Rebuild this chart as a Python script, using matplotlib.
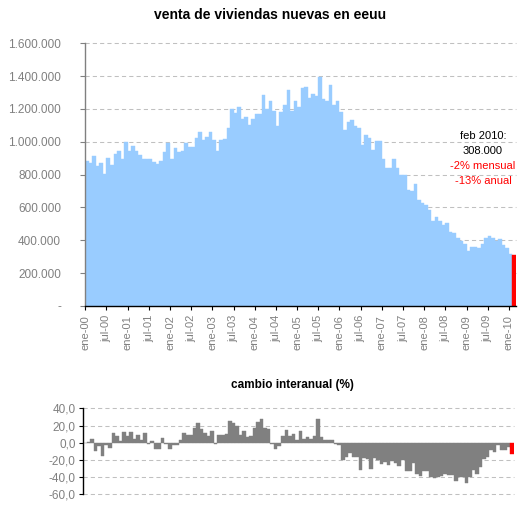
import matplotlib
matplotlib.use("Agg")
import matplotlib.pyplot as plt
import numpy as np

plt.rcParams['font.family'] = ['Liberation Sans', 'DejaVu Sans']

# ventas de viviendas nuevas (miles), ene-2000 .. feb-2010
ventas = [
    881, 869, 911, 851, 869, 802, 899, 857, 923, 941, 893, 996,        # 2000
    947, 972, 947, 917, 893, 893, 893, 875, 863, 881, 935, 990,        # 2001
    893, 960, 935, 947, 990, 966, 966, 1026, 1057, 1014, 1032, 1057,   # 2002
    1008, 947, 1008, 1020, 1087, 1202, 1178, 1214, 1141, 1154, 1105, 1141,  # 2003
    1172, 1172, 1287, 1202, 1250, 1190, 1099, 1184, 1226, 1317, 1190, 1250,  # 2004
    1214, 1329, 1335, 1269, 1293, 1281, 1395, 1263, 1250, 1347, 1226, 1250,  # 2005
    1184, 1069, 1123, 1135, 1099, 1087, 978, 1044, 1026, 951, 1006, 1006,    # 2006
    896, 842, 842, 896, 842, 799, 799, 708, 702, 744, 647, 630,        # 2007
    614, 584, 517, 541, 517, 493, 505, 451, 444, 414, 396, 378,        # 2008
    335, 360, 360, 354, 378, 414, 426, 414, 396, 408, 372, 354,        # 2009
    318, 308,                                                          # 2010
]

# cambio interanual (%)
cambio = [
    -0.8, 0.5, 4.3, -9.3, -3.5, -15.1, -2.3, -5.8, 11.3, 7.8, 1.9, 12.4,
    7.8, 12.4, 4.3, 8.9, 3.1, 11.3, -1.2, 1.9, -7.0, -7.0, 5.4, -1.2,
    -7.0, -2.3, -2.3, 3.1, 11.3, 8.9, 8.9, 17.1, 22.9, 15.9, 11.3, 7.8,
    13.6, -1.2, 8.9, 8.9, 10.1, 25.2, 22.9, 19.4, 8.9, 13.6, 6.6, 7.8,
    17.1, 24.1, 27.5, 17.1, 15.9, -1.6, -7.4, -3.9, 7.8, 14.7, 7.8, 10.1,
    3.1, 13.6, 4.3, 6.6, 4.3, 7.8, 27.5, 6.6, 3.1, 3.1, 3.1, -1.2,
    -2.3, -20.2, -16.7, -12.0, -16.7, -16.7, -31.8, -17.8, -19.0, -30.7, -17.8, -20.2,
    -24.8, -22.5, -26.0, -21.3, -23.7, -27.2, -20.2, -33.0, -33.0, -23.7, -36.5, -38.8,
    -33.0, -33.0, -40.0, -41.1, -40.0, -38.8, -36.5, -37.6, -37.6, -44.6, -40.0, -40.0,
    -47.0, -40.0, -31.8, -36.5, -28.3, -19.0, -16.7, -8.5, -10.9, -2.7, -8.5, -8.5,
    -5.0, -13.5,
]

etiquetas_x = ['ene-00', 'jul-00', 'ene-01', 'jul-01', 'ene-02', 'jul-02',
               'ene-03', 'jul-03', 'ene-04', 'jul-04', 'ene-05', 'jul-05',
               'ene-06', 'jul-06', 'ene-07', 'jul-07', 'ene-08', 'jul-08',
               'ene-09', 'jul-09', 'ene-10']
yticks_sup = [0, 200000, 400000, 600000, 800000, 1000000, 1200000, 1400000, 1600000]
ylabels_sup = ['-', '200.000', '400.000', '600.000', '800.000', '1.000.000',
               '1.200.000', '1.400.000', '1.600.000']
yticks_inf = [-60, -40, -20, 0, 20, 40]
ylabels_inf = ['-60,0', '-40,0', '-20,0', '0,0', '20,0', '40,0']
nota = ['feb 2010:', '308.000', '-2% mensual', '-13% anual']

n = len(ventas)
x = np.arange(n)
ventas_u = np.array(ventas) * 1000

gris = '#808080'
azul = '#99CCFF'
rejilla = '#C0C0C0'

W, H = 526, 509
fig = plt.figure(figsize=(W / 100, H / 100), dpi=100)

# ---- grafico superior
ax = fig.add_axes([85.3 / W, 1 - 306 / H, 430.7 / W, 262.7 / H])
col = [azul] * (n - 1) + ['#FF0000']
ax.bar(x, ventas_u, width=1.0, color=col, edgecolor=col, linewidth=0.3, zorder=2)
ax.set_xlim(-0.5, n - 0.5)
ax.set_ylim(0, 1600000)
for v in yticks_sup[1:]:
    ax.axhline(v, color=rejilla, lw=0.75, ls=(0, (4, 3)), zorder=1, clip_on=False)
ax.set_yticks(yticks_sup)
ax.set_yticklabels(ylabels_sup)
ax.set_xticks(np.arange(0, n, 6) - 0.5)
ax.set_xticklabels(etiquetas_x, rotation=90)
for s in ['top', 'right']:
    ax.spines[s].set_visible(False)
ax.spines['left'].set_color(gris)
ax.spines['left'].set_linewidth(1.0)
ax.spines['bottom'].set_color('black')
ax.spines['bottom'].set_linewidth(1.0)
ax.tick_params(axis='y', colors=gris, length=3.5, width=0.8, pad=14, labelsize=8.5)
ax.tick_params(axis='x', colors='black', labelcolor=gris, length=3, width=0.8, pad=3.5, labelsize=8)

fig.text(270 / W, 1 - 15 / H, 'venta de viviendas nuevas en eeuu', ha='center', va='center',
         fontsize=10, fontweight='bold')

colores_nota = ['black', 'black', 'red', 'red']
for k, (t, c) in enumerate(zip(nota, colores_nota)):
    fig.text(483 / W, 1 - (136 + 15 * k) / H, t, ha='center', va='center', fontsize=8, color=c)

# ---- grafico inferior
ax2 = fig.add_axes([83.3 / W, 1 - 494.3 / H, 430.7 / W, 86 / H])
col2 = [gris] * (n - 1) + ['#FF0000']
ax2.bar(x, cambio, width=1.0, color=col2, edgecolor=col2, linewidth=0.3, zorder=2)
ax2.set_xlim(-0.5, n - 0.5)
ax2.set_ylim(-60, 40)
for v in [-60, -40, -20, 20, 40]:
    ax2.axhline(v, color=rejilla, lw=0.75, ls=(0, (4, 3)), zorder=1, clip_on=False)
ax2.set_yticks(yticks_inf)
ax2.set_yticklabels(ylabels_inf)
ax2.set_xticks([])
for s in ['top', 'right', 'bottom']:
    ax2.spines[s].set_visible(False)
ax2.spines['left'].set_color('black')
ax2.spines['left'].set_linewidth(1.0)
ax2.tick_params(axis='y', colors='black', labelcolor=gris, length=3, width=0.8, pad=2.5, labelsize=8.5)

fig.text(292 / W, 1 - 385 / H, 'cambio interanual (%)', ha='center', va='center',
         fontsize=8.5, fontweight='bold')

fig.savefig('out.png', dpi=100)
